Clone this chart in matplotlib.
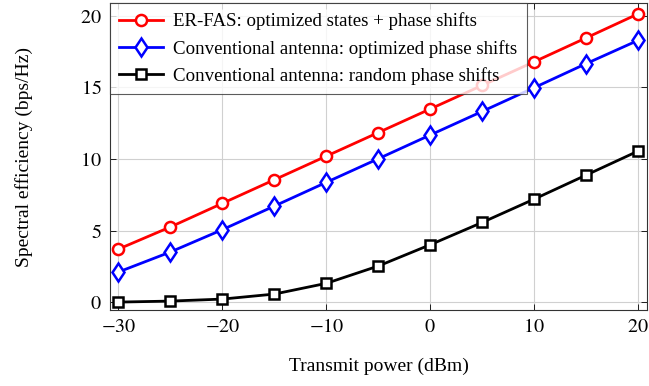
import matplotlib
matplotlib.use("Agg")
import matplotlib.pyplot as plt

plt.rcParams["font.family"] = ["Liberation Serif", "DejaVu Serif"]
plt.rcParams["mathtext.fontset"] = "stix"

# Transmit power (dBm)
power_dbm = [-30, -25, -20, -15, -10, -5, 0, 5, 10, 15, 20]

# Spectral efficiency (bps/Hz)
er_fas_opt = [3.7, 5.25, 6.9, 8.55, 10.2, 11.85, 13.5, 15.15, 16.8, 18.47, 20.15]
conv_opt = [2.1, 3.5, 5.06, 6.71, 8.37, 10.02, 11.68, 13.33, 14.99, 16.67, 18.3]
conv_rand = [0.0, 0.07, 0.21, 0.56, 1.31, 2.52, 4.01, 5.57, 7.2, 8.88, 10.56]

labels = [
    "ER-FAS: optimized states + phase shifts",
    "Conventional antenna: optimized phase shifts",
    "Conventional antenna: random phase shifts",
]

xticks = [-30, -20, -10, 0, 10, 20]
yticks = [0, 5, 10, 15, 20]

fig = plt.figure(figsize=(6.49, 3.86), dpi=100)
ax = fig.add_axes([0.1695, 0.197, 0.8275, 0.795])

common = dict(linewidth=2.0, markeredgewidth=1.8, markerfacecolor="white")
ax.plot(power_dbm, er_fas_opt, color="#ff0000", marker="o", markersize=8,
        label=labels[0], **common)
ax.plot(power_dbm, conv_opt, color="#0000ff", marker="d", markersize=9.5,
        label=labels[1], **common)
ax.plot(power_dbm, conv_rand, color="black", marker="s", markersize=7.5,
        label=labels[2], **common)

ax.set_xlim(-30.8, 20.85)
ax.set_ylim(-0.55, 20.9)
ax.set_xticks(xticks)
ax.set_yticks(yticks)
ax.set_xticklabels([f"${t}$" for t in xticks])
ax.set_yticklabels([f"${t}$" for t in yticks])
ax.tick_params(direction="in", top=True, right=True, labelsize=14.5,
               length=4, width=0.6, pad=6)
ax.grid(True, color="#d0d0d0", linewidth=0.8)
ax.set_axisbelow(True)
for s in ax.spines.values():
    s.set_linewidth(0.8)
    s.set_color("#333333")

ax.set_xlabel("Transmit power (dBm)", fontsize=14, labelpad=15)
ax.set_ylabel("Spectral efficiency (bps/Hz)", fontsize=14, labelpad=34)

leg = ax.legend(loc="upper left", fontsize=13.6, frameon=True, fancybox=False,
                framealpha=0.8, edgecolor="#333333", handlelength=2.3,
                borderaxespad=0.0, labelspacing=0.5, handletextpad=0.55,
                borderpad=0.5)
leg.get_frame().set_linewidth(0.8)

fig.savefig("out.png", dpi=100)
